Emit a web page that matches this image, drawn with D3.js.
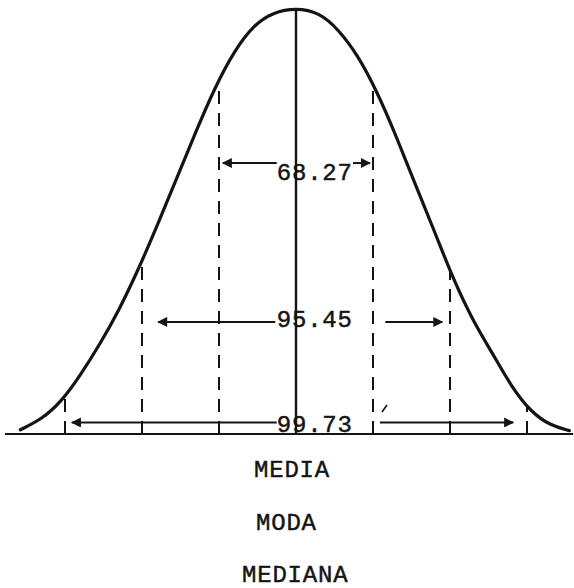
<!DOCTYPE html>
<html>
<head>
<meta charset="utf-8">
<script src="https://cdn.jsdelivr.net/npm/d3@7"></script>
<style>
  html, body { margin: 0; padding: 0; background: #fff; }
  svg { display: block; }
  text { font-family: "Liberation Mono", "DejaVu Sans Mono", monospace; fill: #141414; stroke: #141414; stroke-width: 0.45; }
</style>
</head>
<body>
<svg id="chart" width="574" height="588"></svg>
<script>
// ---- data (x in standard deviations, height relative to the peak) ----
const curveX = [-3.58, -3.3, -3.05, -2.8, -2.55, -2.3, -2.05, -1.8, -1.55, -1.3, -1.05, -0.8, -0.55, -0.3, 0,
                 0.3, 0.55, 0.8, 1.05, 1.3, 1.55, 1.8, 2.05, 2.3, 2.55, 2.8, 3.05, 3.3, 3.55];
const curveY = [0.010, 0.035, 0.075, 0.138, 0.21, 0.29, 0.385, 0.49, 0.60, 0.71, 0.815, 0.90, 0.96, 0.99, 1.0,
                0.99, 0.95, 0.89, 0.805, 0.70, 0.585, 0.475, 0.36, 0.265, 0.19, 0.11, 0.052, 0.02, 0.008];
const sigmaMarks = [-3, -2, -1, 1, 2, 3];
const bandLabels = ["68.27", "95.45", "99.73"];
const bandLevel = [0.636, 0.263, 0.027];          // height of the arrows
const bandTextY = [0.596, 0.251, 0.005];          // text baseline height
const leftArrowHead = [-0.95, -1.79, -2.91];
const leftArrowTail = [-0.25, -0.27, -0.25];
const rightArrowTail = [0.74, 1.16, 1.09];
const rightArrowHead = [0.96, 1.90, 2.82];
const textStart = [-0.25, -0.25, -0.25];
const centerLabels = ["MEDIA", "MODA", "MEDIANA"];
const axisExtent = [-3.78, 3.6];

// ---- scales ----
const svg = d3.select("#chart");
const x = d3.scaleLinear().domain([-3, 3]).range([65, 527]);
const y = d3.scaleLinear().domain([0, 1]).range([434, 8]);
const ink = "#141414";

const pts = curveX.map((v, i) => [v, curveY[i]]);
const curveAt = z => {
  const i = d3.bisector(d => d[0]).left(pts, z);
  if (i <= 0) return pts[0][1];
  if (i >= pts.length) return pts[pts.length - 1][1];
  const a = pts[i - 1], b = pts[i];
  return a[1] + (b[1] - a[1]) * (z - a[0]) / (b[0] - a[0]);
};

// arrow marker
const defs = svg.append("defs");
defs.append("marker")
  .attr("id", "head").attr("viewBox", "0 0 10 10")
  .attr("refX", 9).attr("refY", 5)
  .attr("markerWidth", 12).attr("markerHeight", 10)
  .attr("markerUnits", "userSpaceOnUse")
  .attr("orient", "auto-start-reverse")
  .append("path").attr("d", "M0,0 L10,5 L0,10 Z").attr("fill", ink);

// baseline
svg.append("line")
  .attr("x1", x(axisExtent[0])).attr("x2", x(axisExtent[1]))
  .attr("y1", y(0)).attr("y2", y(0))
  .attr("stroke", ink).attr("stroke-width", 2.2);

// dashed sigma lines
svg.append("g").selectAll("line").data(sigmaMarks).join("line")
  .attr("x1", d => x(d)).attr("x2", d => x(d))
  .attr("y1", y(0)).attr("y2", d => y(curveAt(d)))
  .attr("stroke", ink).attr("stroke-width", 2)
  .attr("stroke-dasharray", "13,9");

// center line (mean / mode / median)
svg.append("line")
  .attr("x1", x(0)).attr("x2", x(0))
  .attr("y1", y(0)).attr("y2", y(1))
  .attr("stroke", ink).attr("stroke-width", 2.4);

// curve
svg.append("path")
  .datum(pts)
  .attr("d", d3.line().x(d => x(d[0])).y(d => y(d[1])).curve(d3.curveBasis))
  .attr("fill", "none").attr("stroke", ink).attr("stroke-width", 3.2)
  .attr("stroke-linecap", "round");

// arrows and band labels
const bands = svg.append("g");
bandLabels.forEach((lab, i) => {
  bands.append("line")
    .attr("x1", x(leftArrowTail[i])).attr("x2", x(leftArrowHead[i]))
    .attr("y1", y(bandLevel[i])).attr("y2", y(bandLevel[i]))
    .attr("stroke", ink).attr("stroke-width", 2)
    .attr("marker-end", "url(#head)");
  bands.append("line")
    .attr("x1", x(rightArrowTail[i])).attr("x2", x(rightArrowHead[i]))
    .attr("y1", y(bandLevel[i])).attr("y2", y(bandLevel[i]))
    .attr("stroke", ink).attr("stroke-width", 2)
    .attr("marker-end", "url(#head)");
  bands.append("text")
    .attr("x", x(textStart[i])).attr("y", y(bandTextY[i]))
    .attr("font-size", 24).attr("letter-spacing", 0.8)
    .text(lab);
});

// labels under the axis
const labelX = [254, 256, 242];
const labelY = [477, 530, 582];
svg.append("g").selectAll("text").data(centerLabels).join("text")
  .attr("x", (d, i) => labelX[i]).attr("y", (d, i) => labelY[i])
  .attr("font-size", 24).attr("letter-spacing", 0.8)
  .text(d => d);

// small stray pen mark from the scan
svg.append("line")
  .attr("x1", 382).attr("y1", 412).attr("x2", 387).attr("y2", 405)
  .attr("stroke", ink).attr("stroke-width", 1.6);
</script>
</body>
</html>
